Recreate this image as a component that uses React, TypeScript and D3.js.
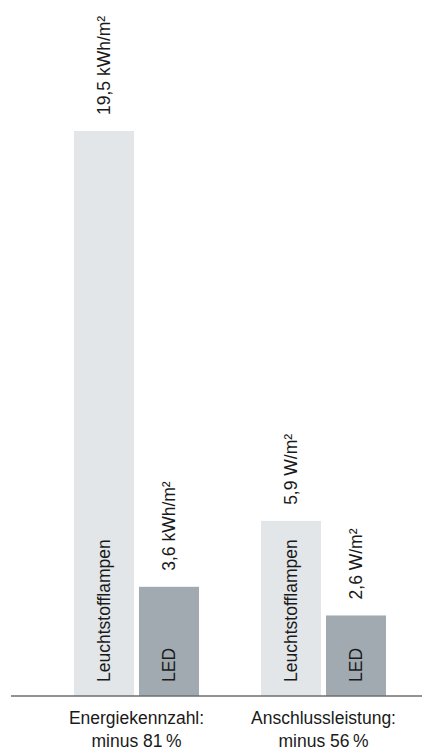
import React from "react";
import * as d3 from "d3";

const groups = ["Energiekennzahl:", "Anschlussleistung:"];
const groupSubtitles = ["minus 81\u2009%", "minus 56\u2009%"];
const series = ["Leuchtstofflampen", "LED"];
const values = [
  [19.5, 3.6],
  [5.9, 2.6],
];
const valueLabels = [
  ["19,5 kWh/m²", "3,6 kWh/m²"],
  ["5,9 W/m²", "2,6 W/m²"],
];
const seriesColors = ["#e2e6e9", "#a1aab1"];

const W = 422;
const H = 749;
const baseY = 696;
const font = "'Liberation Sans', Arial, Helvetica, sans-serif";
const fs = 17.5;

export default function App() {
  const x0 = d3
    .scaleBand<string>()
    .domain(groups)
    .range([74, 386])
    .paddingInner(62 / 187)
    .paddingOuter(0);
  const x1 = d3
    .scaleBand<string>()
    .domain(series)
    .range([0, x0.bandwidth()])
    .paddingInner(5 / 65)
    .paddingOuter(0);
  const y = d3.scaleLinear().domain([0, 19.5]).range([baseY - 6, 131]);

  return (
    <svg
      width={W}
      height={H}
      style={{ position: "absolute", left: 0, top: 0, background: "#fff" }}
      fontFamily={font}
    >
      {groups.map((g, gi) => (
        <g key={g} transform={`translate(${x0(g)},0)`}>
          {series.map((s, si) => {
            const v = values[gi][si];
            const bx = x1(s) as number;
            const bw = x1.bandwidth();
            const top = y(v);
            const cx = bx + bw / 2;
            return (
              <g key={s}>
                <rect x={bx} y={top} width={bw} height={baseY - top} fill={seriesColors[si]} />
                <text
                  transform={`translate(${cx},${baseY - 14}) rotate(-90)`}
                  dy="0.36em"
                  fontSize={fs}
                  fill="#1a1a1a"
                  textAnchor="start"
                >
                  {s}
                </text>
                <text
                  transform={`translate(${cx},${top - 16}) rotate(-90)`}
                  dy="0.36em"
                  fontSize={fs}
                  fill="#1a1a1a"
                  textAnchor="start"
                >
                  {valueLabels[gi][si]}
                </text>
              </g>
            );
          })}
          <text
            x={x0.bandwidth() / 2}
            y={724}
            fontSize={fs}
            fill="#1a1a1a"
            textAnchor="middle"
          >
            {g}
          </text>
          <text
            x={x0.bandwidth() / 2}
            y={746.5}
            fontSize={fs}
            fill="#1a1a1a"
            textAnchor="middle"
          >
            {groupSubtitles[gi]}
          </text>
        </g>
      ))}
      <line x1={11} x2={W} y1={baseY} y2={baseY} stroke="#6e6e6e" strokeWidth={1.6} />
    </svg>
  );
}
